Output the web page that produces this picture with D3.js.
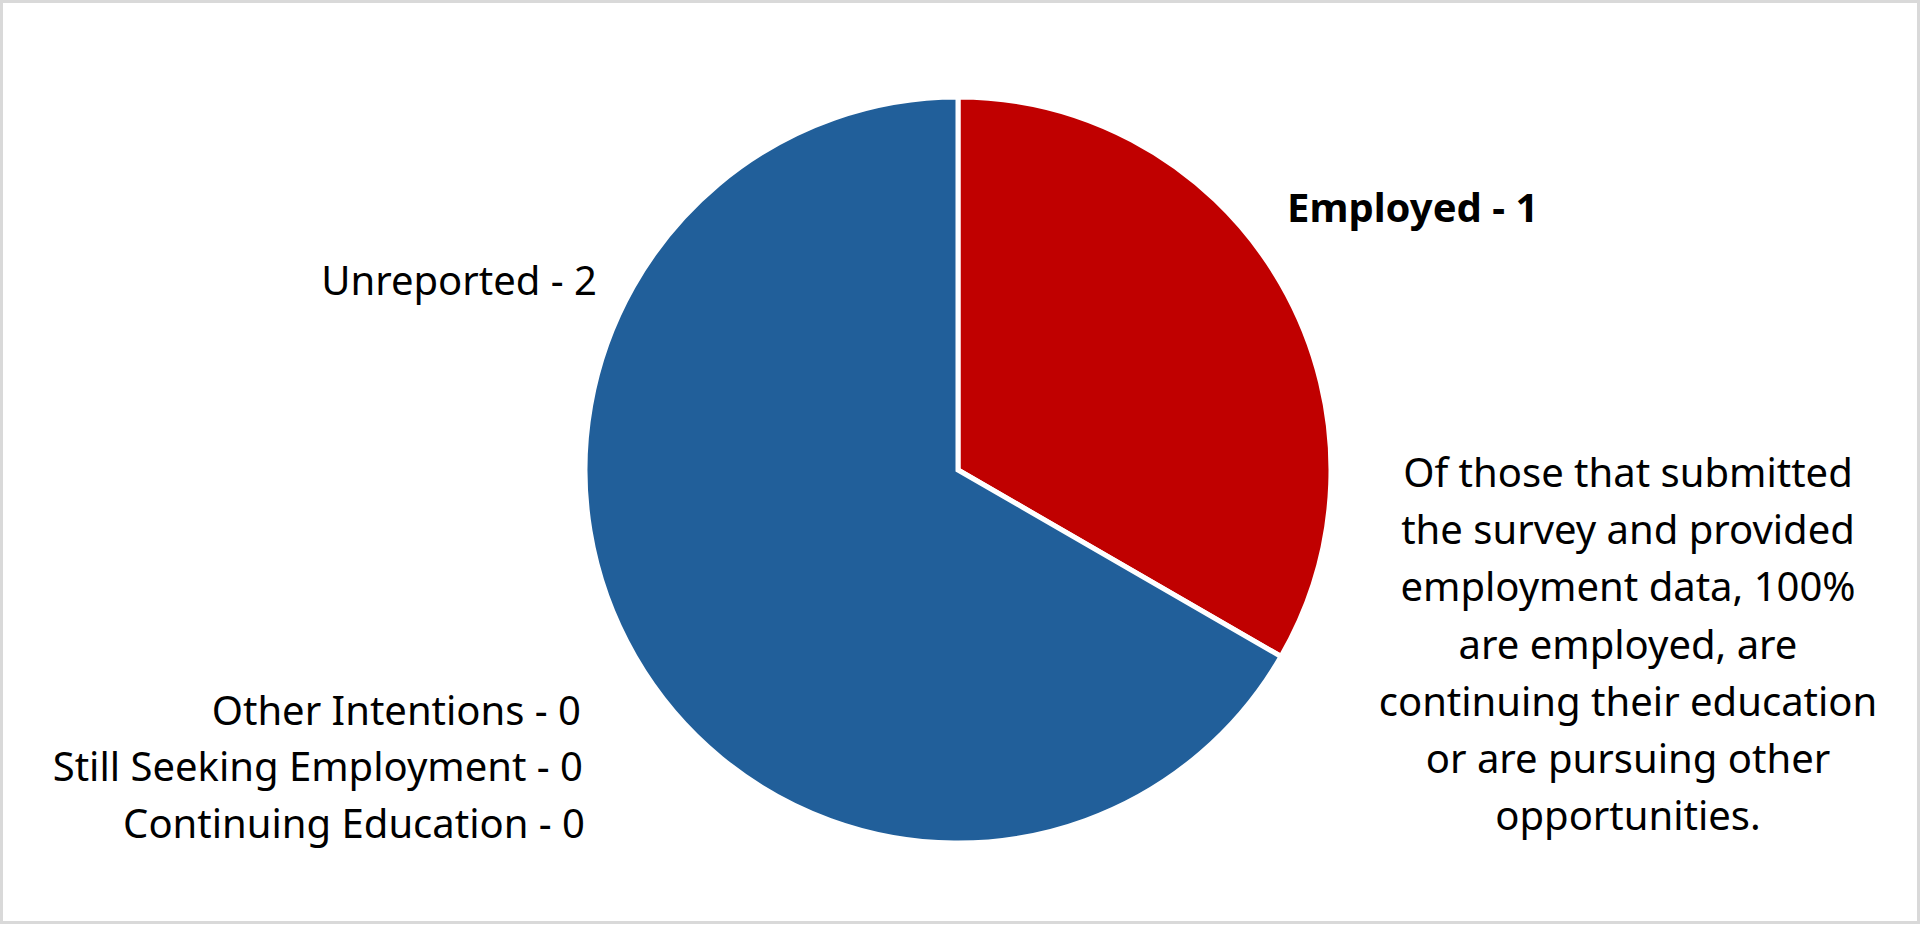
<!DOCTYPE html>
<html><head><meta charset="utf-8">
<script src="https://cdn.jsdelivr.net/npm/d3@7"></script>
<style>html,body{margin:0;padding:0;background:#fff;overflow:hidden}</style>
</head><body><svg id="c" width="1920" height="926"></svg>
<script>
const categories = ["Employed", "Continuing Education", "Still Seeking Employment", "Other Intentions", "Unreported"];
const values = [1, 0, 0, 0, 2];
const colors = ["#C00000", "#4472C4", "#A5A5A5", "#FFC000", "#215F9A"];
const note = ["Of those that submitted", "the survey and provided", "employment data, 100%", "are employed, are", "continuing their education", "or are pursuing other", "opportunities."];

const svg = d3.select("#c");
const W = 1920, H = 926;
const font = "'Noto Sans', 'Open Sans', sans-serif";
svg.append("rect").attr("x",1.5).attr("y",1.5).attr("width",W-3).attr("height",H-5)
  .attr("fill","#fff").attr("stroke","#d9d9d9").attr("stroke-width",3);

const cx = 958, cy = 470, R = 373;
const pie = d3.pie().sort(null).value(d => d.v);
const arcs = pie(categories.map((c,i)=>({c, v: values[i], col: colors[i]})));
const arc = d3.arc().innerRadius(0).outerRadius(R);
const g = svg.append("g").attr("transform",`translate(${cx},${cy})`);
g.selectAll("path").data(arcs.filter(a => a.data.v > 0)).join("path")
  .attr("d", arc).attr("fill", d => d.data.col)
  .attr("stroke","#fff").attr("stroke-width",5).attr("stroke-linejoin","miter");

const fs = 40;
const lab = (t, x, y, anchor, bold) => svg.append("text").attr("x",x).attr("y",y)
  .attr("text-anchor",anchor).attr("font-family",font).attr("font-size",fs)
  .attr("font-weight", bold ? "bold" : "normal").attr("fill","#000").text(t);

const byName = Object.fromEntries(categories.map((c,i)=>[c, values[i]]));
lab(`Employed - ${byName["Employed"]}`, 1287, 222, "start", true);
lab(`Unreported - ${byName["Unreported"]}`, 597, 295, "end", false);
lab(`Other Intentions - ${byName["Other Intentions"]}`, 581, 725, "end", false);
lab(`Still Seeking Employment - ${byName["Still Seeking Employment"]}`, 583, 781, "end", false);
lab(`Continuing Education - ${byName["Continuing Education"]}`, 585, 838, "end", false);

note.forEach((t,i) => lab(t, 1628, 487 + i*57.2, "middle", false));
</script></body></html>
